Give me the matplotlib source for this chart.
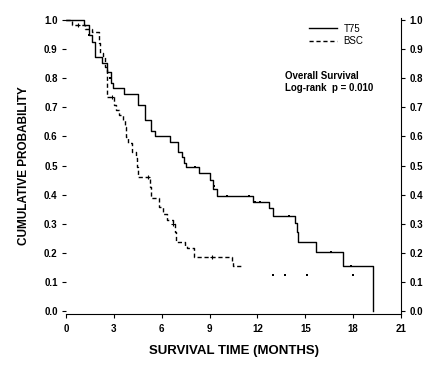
import matplotlib
matplotlib.use("Agg")
import matplotlib.pyplot as plt

plt.rcParams["font.family"] = ["Liberation Sans", "DejaVu Sans"]

# ---------------------------------------------------------------------------
# Kaplan-Meier curves (months, cumulative probability)
# ---------------------------------------------------------------------------
t75_time = [0, 1.15, 1.45, 1.6, 1.8, 2.25, 2.6, 2.8, 2.97, 3.64, 4.5, 4.95,
            5.3, 5.6, 6.5, 7.0, 7.25, 7.4, 7.5, 8.35, 9.0, 9.2, 9.45, 11.75,
            12.75, 13.0, 14.35, 14.45, 14.55, 15.65, 17.39, 19.23]
t75_surv = [1.0, 0.983, 0.95, 0.925, 0.874, 0.853, 0.822, 0.782, 0.765, 0.746,
            0.708, 0.656, 0.62, 0.601, 0.582, 0.546, 0.529, 0.509, 0.495, 0.475,
            0.45, 0.42, 0.396, 0.376, 0.353, 0.325, 0.302, 0.271, 0.236, 0.204,
            0.155, 0.0]
t75_cens_time = [1.45, 2.75, 8.06, 9.25, 10.1, 11.47, 11.85, 12.16, 14.0, 16.6, 17.87]
t75_cens_surv = [0.95, 0.80, 0.495, 0.43, 0.396, 0.396, 0.376, 0.376, 0.325, 0.204, 0.155]

bsc_time = [0, 0.35, 1.2, 1.6, 2.09, 2.15, 2.35, 2.45, 2.55, 2.6, 3.03, 3.15,
            3.3, 3.6, 3.7, 3.75, 3.9, 4.15, 4.4, 4.45, 4.5, 5.25, 5.3, 5.8,
            6.1, 6.3, 6.7, 6.85, 6.9, 7.45, 7.6, 8.0, 8.05, 10.4, 10.45, 11.1]
bsc_surv = [1.0, 0.983, 0.97, 0.96, 0.92, 0.887, 0.873, 0.838, 0.811, 0.734,
            0.708, 0.69, 0.674, 0.656, 0.632, 0.598, 0.577, 0.546, 0.525, 0.495,
            0.459, 0.426, 0.388, 0.358, 0.335, 0.313, 0.30, 0.271, 0.236, 0.225,
            0.215, 0.20, 0.185, 0.17, 0.155, 0.155]
bsc_cens_time = [0.73, 2.86, 5.16, 6.73, 9.13]
bsc_cens_surv = [0.983, 0.734, 0.459, 0.30, 0.185]
# isolated censored observations at the tail of the BSC curve
bsc_tail_time = [12.96, 13.73, 15.09, 17.97]
bsc_tail_surv = [0.124, 0.124, 0.124, 0.124]

x_ticks = [0, 3, 6, 9, 12, 15, 18, 21]
y_ticks = [0.0, 0.1, 0.2, 0.3, 0.4, 0.5, 0.6, 0.7, 0.8, 0.9, 1.0]

DPI = 100
fig = plt.figure(figsize=(440 / DPI, 365 / DPI), dpi=DPI)
ax = fig.add_axes([66 / 440, 1 - 314 / 365, 335 / 440, 296 / 365])

dash = (0, (3, 2))
ax.step(t75_time, t75_surv, where="post", color="black", lw=1.0, label="T75")
ax.step(bsc_time, bsc_surv, where="post", color="black", lw=1.0,
        linestyle=dash, label="BSC")
ax.plot(t75_cens_time, t75_cens_surv, "s", color="black", ms=2, mew=0)
ax.plot(bsc_cens_time, bsc_cens_surv, "+", color="black", ms=3, mew=0.8)
ax.plot(bsc_tail_time, bsc_tail_surv, "s", color="black", ms=1.6, mew=0)

ax.set_xlim(0, 21)
ax.set_ylim(-0.0103, 1.007)
ax.set_xticks(x_ticks)
ax.set_xticklabels([str(v) for v in x_ticks])
ax.set_yticks(y_ticks)
ax.set_yticklabels([f"{v:.1f}" for v in y_ticks])

ax.spines["top"].set_visible(False)
ax.spines["left"].set_visible(False)
ax.yaxis.set_ticks_position("both")
ax.tick_params(axis="y", which="both", labelright=True, direction="out",
               length=3, width=0.8, pad=3, labelsize=7)
ax.tick_params(axis="x", direction="out", length=3, width=0.8, pad=4, labelsize=7)
for lab in ax.get_xticklabels() + ax.get_yticklabels():
    lab.set_fontweight("bold")
for lab in ax.yaxis.get_ticklabels(which="both"):
    lab.set_fontweight("bold")

ax.set_xlabel("SURVIVAL TIME (MONTHS)", fontsize=9.5, fontweight="bold", labelpad=8)
ax.set_ylabel("CUMULATIVE PROBABILITY", fontsize=8.5, fontweight="bold", labelpad=10)

leg = ax.legend(loc="upper right", bbox_to_anchor=(0.905, 1.0), frameon=False,
                fontsize=7, handlelength=2.8, handletextpad=0.7,
                labelspacing=0.25, borderaxespad=0.2)

ax.text(0.655, 0.82, "Overall Survival\nLog-rank  p = 0.010",
        transform=ax.transAxes, fontsize=7, fontweight="bold",
        va="top", ha="left", linespacing=1.2)

fig.savefig("out.png", dpi=DPI)
